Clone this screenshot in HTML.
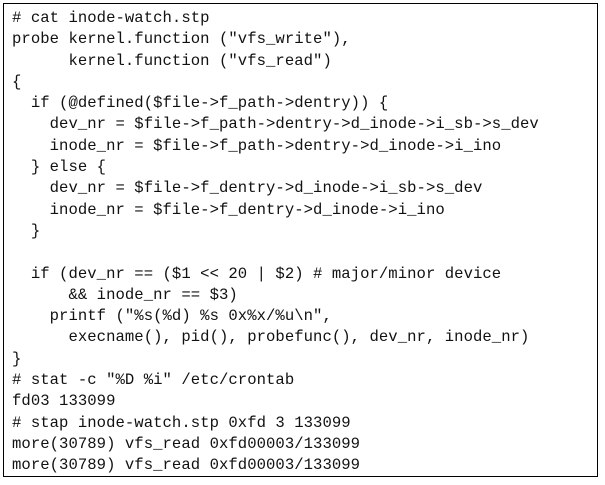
<!DOCTYPE html>
<html><head><style>
html,body{margin:0;padding:0;background:#fff;width:605px;height:485px;overflow:hidden}
.box{position:absolute;left:3px;top:3px;width:595px;height:474px;border:1.5px solid #000;box-sizing:border-box}
pre{position:absolute;left:12px;top:8px;margin:0;font-family:"Liberation Mono",monospace;font-size:15.6px;line-height:21.3px;color:#111;letter-spacing:0.05px}
</style></head><body>
<div class="box"></div>
<pre># cat inode-watch.stp
probe kernel.function ("vfs_write"),
      kernel.function ("vfs_read")
{
  if (@defined($file-&gt;f_path-&gt;dentry)) {
    dev_nr = $file-&gt;f_path-&gt;dentry-&gt;d_inode-&gt;i_sb-&gt;s_dev
    inode_nr = $file-&gt;f_path-&gt;dentry-&gt;d_inode-&gt;i_ino
  } else {
    dev_nr = $file-&gt;f_dentry-&gt;d_inode-&gt;i_sb-&gt;s_dev
    inode_nr = $file-&gt;f_dentry-&gt;d_inode-&gt;i_ino
  }

  if (dev_nr == ($1 &lt;&lt; 20 | $2) # major/minor device
      &amp;&amp; inode_nr == $3)
    printf ("%s(%d) %s 0x%x/%u\n",
      execname(), pid(), probefunc(), dev_nr, inode_nr)
}
# stat -c "%D %i" /etc/crontab
fd03 133099
# stap inode-watch.stp 0xfd 3 133099
more(30789) vfs_read 0xfd00003/133099
more(30789) vfs_read 0xfd00003/133099</pre>
</body></html>
